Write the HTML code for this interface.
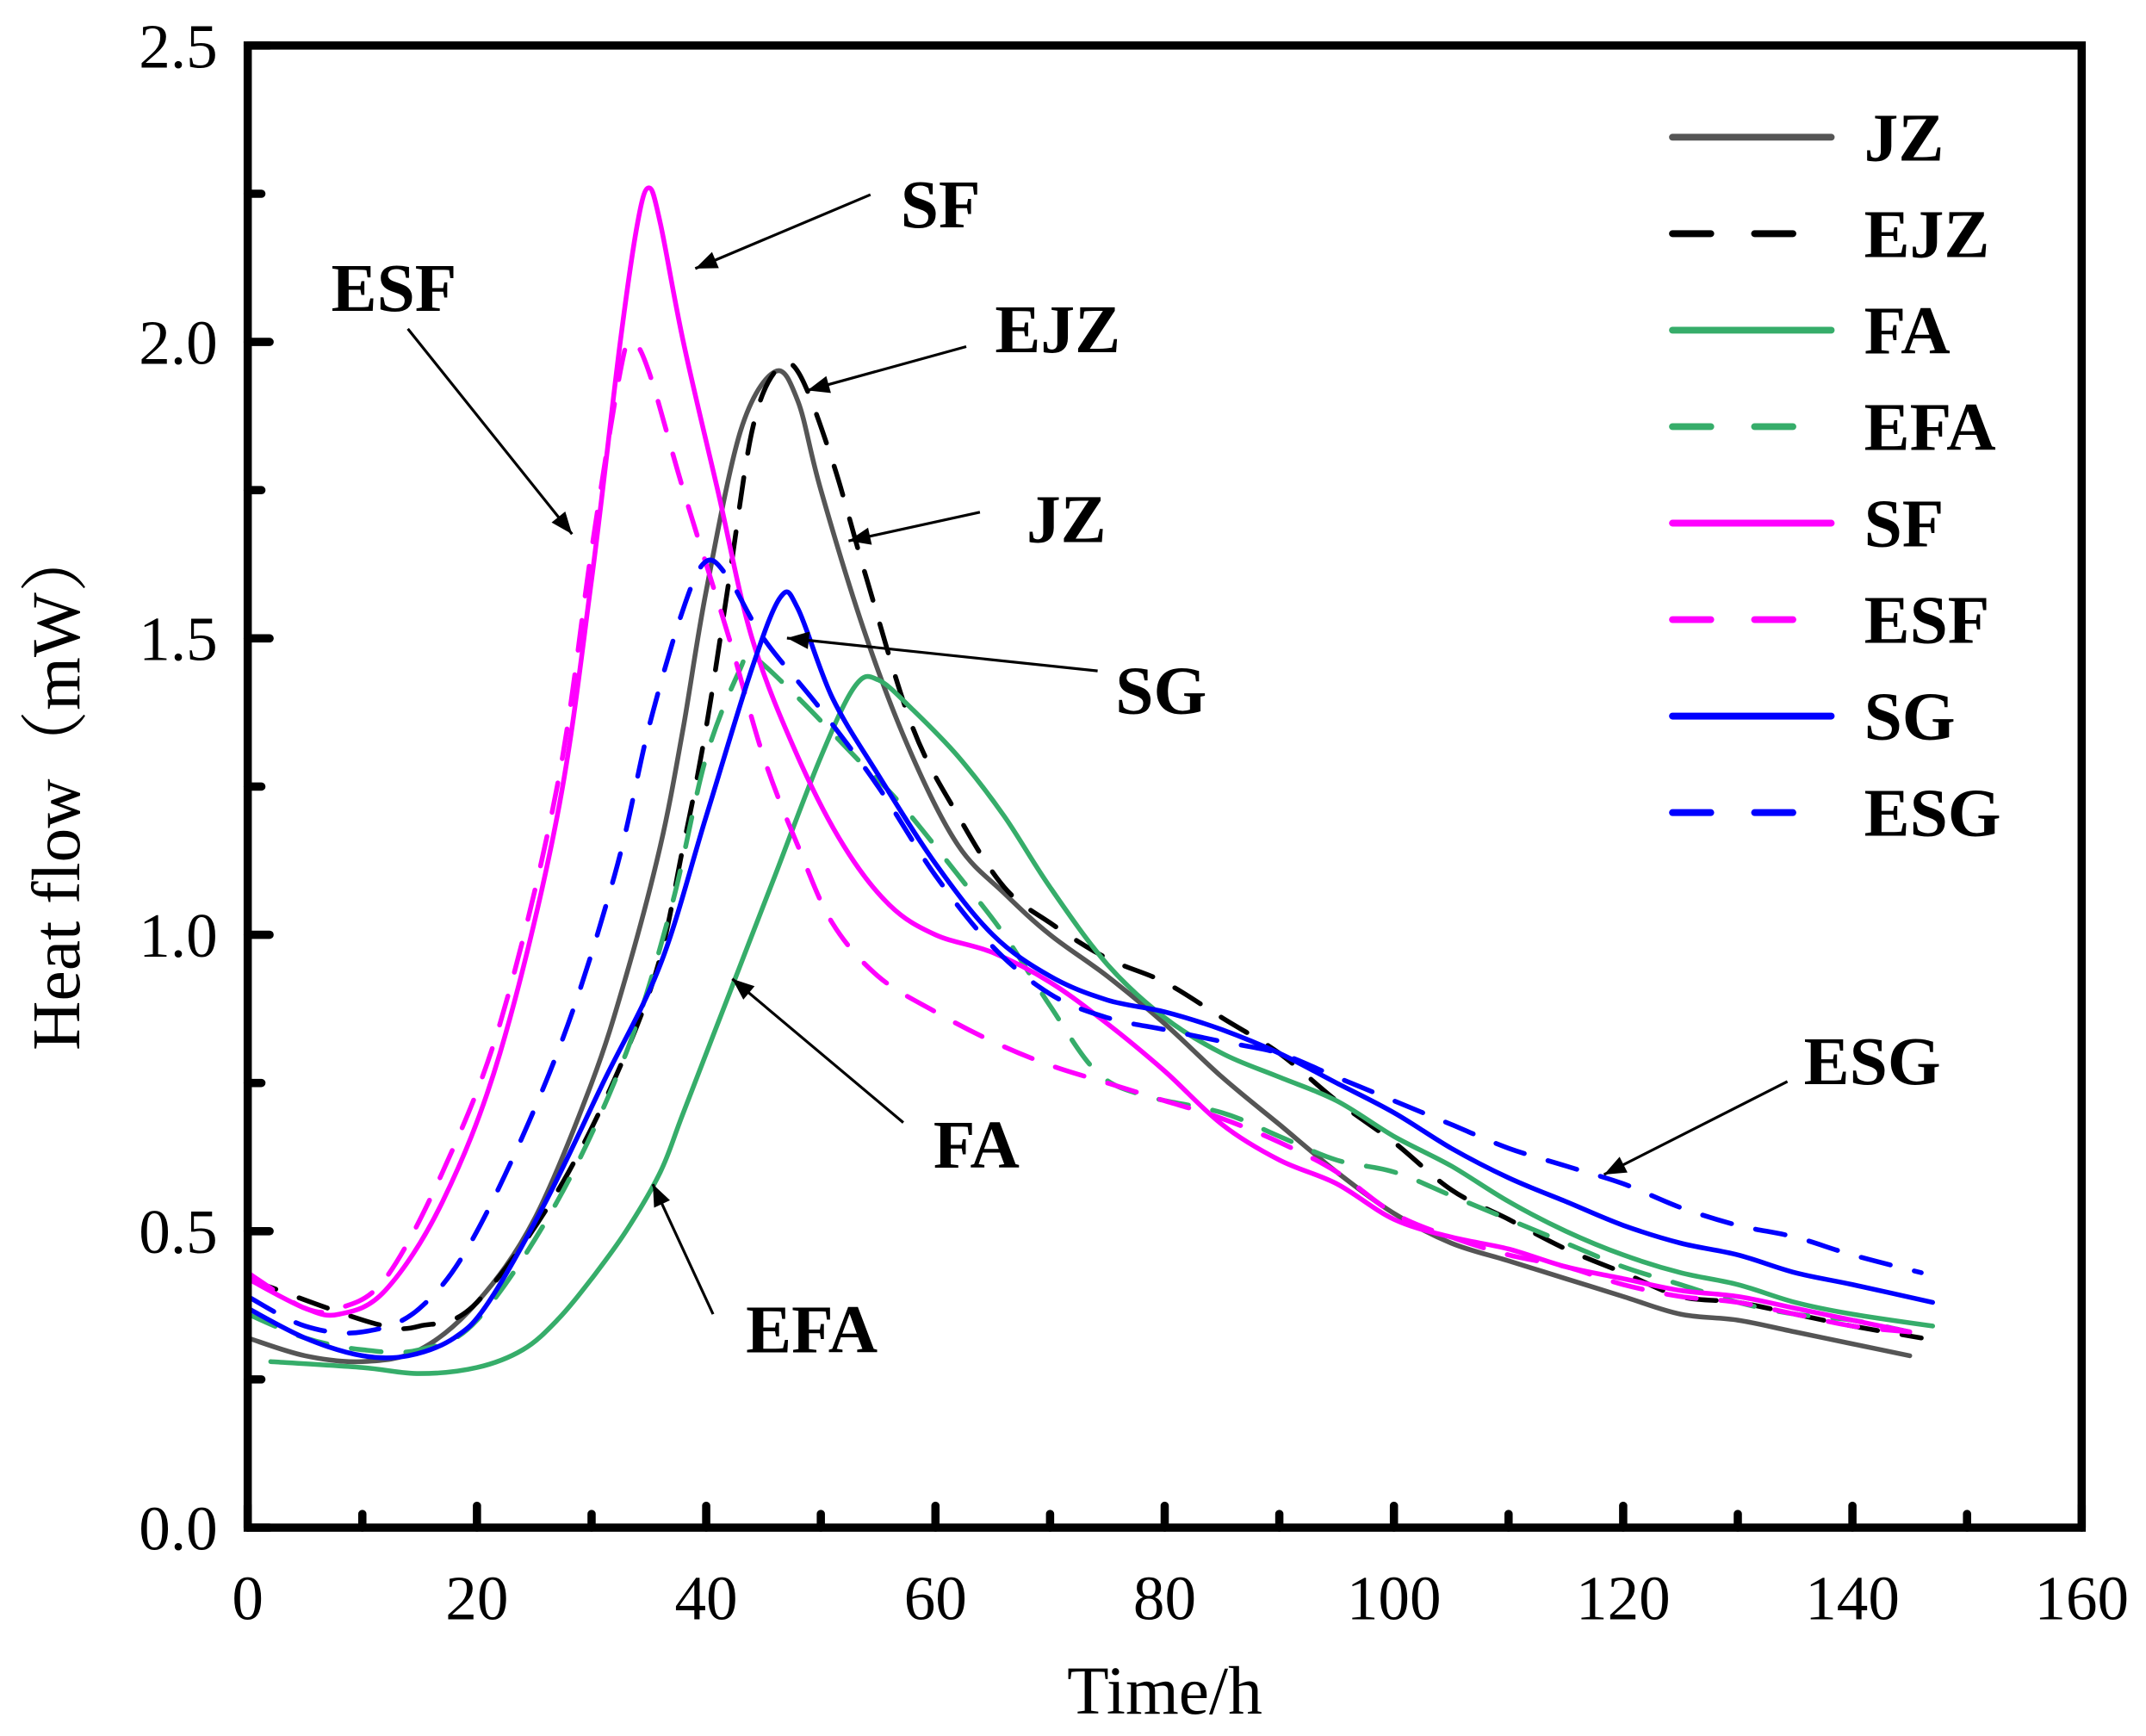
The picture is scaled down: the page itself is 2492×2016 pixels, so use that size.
<!DOCTYPE html>
<html><head><meta charset="utf-8"><style>html,body{margin:0;padding:0;background:#fff}svg{display:block}text{font-family:"Liberation Serif",serif}</style></head>
<body>
<svg id="chart" width="2492" height="2016" viewBox="0 0 1568 1268" xmlns="http://www.w3.org/2000/svg">
<g id="plot"></g>
<g id="axes"></g>
<g id="legend"></g>
<g id="annot"></g>
</svg>
<script>
const xTicks=[0,20,40,60,80,100,120,140,160];
const yTicks=[0.0,0.5,1.0,1.5,2.0,2.5];
const seriesNames=["JZ","EJZ","FA","EFA","SF","ESF","SG","ESG"];
const tJZ=[0,5,10,15,20,25,30,33,36,38,40,43,46,48,50,54,58,62,66,70,75,80,85,90,95,100,105,110,115,120,125,130,135,140,145];
const vJZ=[0.32,0.29,0.28,0.3,0.38,0.52,0.75,0.93,1.15,1.35,1.58,1.85,1.95,1.9,1.75,1.5,1.3,1.15,1.07,1.0,0.93,0.85,0.76,0.68,0.6,0.53,0.48,0.45,0.42,0.39,0.36,0.35,0.33,0.31,0.29];
const tEJZ=[0,7,12,15,20,28,35,38,40,42,44,46,48,51,54,58,62,66,70,75,80,85,90,95,100,105,110,115,120,125,130,135,140,146];
const vEJZ=[0.42,0.37,0.34,0.34,0.38,0.6,0.9,1.15,1.35,1.6,1.85,1.95,1.95,1.8,1.6,1.35,1.2,1.08,1.02,0.96,0.92,0.86,0.8,0.72,0.65,0.57,0.52,0.47,0.43,0.39,0.38,0.36,0.34,0.32];
const tFA=[2,10,15,20,24,27,30,33,36,38,42,46,50,53,55,58,62,66,70,75,80,85,90,95,100,105,110,115,120,125,130,135,140,147];
const vFA=[0.28,0.27,0.26,0.27,0.3,0.35,0.42,0.5,0.6,0.7,0.9,1.1,1.3,1.42,1.43,1.38,1.3,1.2,1.08,0.95,0.86,0.8,0.76,0.72,0.66,0.61,0.55,0.5,0.46,0.43,0.41,0.38,0.36,0.34];
const tEFA=[0,5,10,15,20,27,33,37,40,43,44,48,53,57,62,66,70,74,78,85,90,95,100,105,110,115,120,125,130,135,140,145];
const vEFA=[0.36,0.32,0.3,0.3,0.35,0.55,0.8,1.05,1.3,1.45,1.47,1.4,1.3,1.22,1.1,1.0,0.88,0.77,0.73,0.7,0.66,0.62,0.6,0.56,0.52,0.48,0.44,0.41,0.38,0.36,0.35,0.33];
const tSF=[0,5,8,12,17,22,27,30,32.5,34,35,36,38,41,44,48,52,56,60,65,70,75,80,85,90,95,100,105,110,115,120,125,130,135,140,145];
const vSF=[0.42,0.37,0.36,0.4,0.55,0.8,1.2,1.6,2.0,2.2,2.26,2.2,2.0,1.75,1.5,1.3,1.15,1.05,1.0,0.97,0.92,0.85,0.77,0.68,0.62,0.58,0.52,0.49,0.47,0.44,0.42,0.4,0.39,0.37,0.35,0.33];
const tESF=[0,5,8,12,17,22,27,30,32.5,33.5,35,38,42,45,48,51,55,60,65,70,75,80,85,90,95,100,105,110,115,120,125,130,135,140,145];
const vESF=[0.43,0.37,0.37,0.42,0.6,0.85,1.25,1.65,1.95,2.0,1.95,1.75,1.5,1.3,1.15,1.02,0.93,0.87,0.82,0.78,0.75,0.72,0.69,0.65,0.6,0.53,0.49,0.46,0.44,0.41,0.39,0.38,0.36,0.34,0.33];
const tSG=[0,5,10,14,18,21,26,31,36,40,44,46.5,48,51,55,60,65,70,75,80,85,90,95,100,105,110,115,120,125,130,135,140,147];
const vSG=[0.37,0.32,0.29,0.29,0.32,0.38,0.55,0.75,0.95,1.2,1.45,1.57,1.55,1.4,1.27,1.12,1.0,0.93,0.89,0.87,0.84,0.8,0.75,0.7,0.64,0.59,0.55,0.51,0.48,0.46,0.43,0.41,0.38];
const tESG=[0,5,10,15,20,27,32,35,38,40,42,45,50,55,60,65,70,75,80,85,90,95,100,105,110,115,120,125,130,135,140,146];
const vESG=[0.39,0.34,0.33,0.37,0.5,0.8,1.1,1.35,1.55,1.63,1.6,1.5,1.38,1.25,1.1,0.98,0.9,0.86,0.84,0.82,0.8,0.76,0.72,0.68,0.64,0.61,0.58,0.54,0.51,0.49,0.46,0.43];

const NS="http://www.w3.org/2000/svg";
const L=181,R=1521,T=33,B=1116;
const xs=t=>L+(t-0)/(160-0)*(R-L);
const ys=v=>B-(v-0)/(2.5-0)*(B-T);
function mk(tag,attrs,parent,txt){const e=document.createElementNS(NS,tag);for(const k in attrs)e.setAttribute(k,attrs[k]);if(txt!==undefined)e.textContent=txt;parent.appendChild(e);return e;}
function smooth(pts){let d="M"+pts[0][0].toFixed(1)+","+pts[0][1].toFixed(1);
 for(let i=0;i<pts.length-1;i++){const p0=pts[i-1]||pts[i],p1=pts[i],p2=pts[i+1],p3=pts[i+2]||p2;
  const c1=[p1[0]+(p2[0]-p0[0])/6,p1[1]+(p2[1]-p0[1])/6],c2=[p2[0]-(p3[0]-p1[0])/6,p2[1]-(p3[1]-p1[1])/6];
  d+=" C"+c1[0].toFixed(1)+","+c1[1].toFixed(1)+" "+c2[0].toFixed(1)+","+c2[1].toFixed(1)+" "+p2[0].toFixed(1)+","+p2[1].toFixed(1);}
 return d;}
const series=[
 {n:"JZ",t:tJZ,v:vJZ,c:"#555555",d:null},
 {n:"EJZ",t:tEJZ,v:vEJZ,c:"#000000",d:"22 18"},
 {n:"FA",t:tFA,v:vFA,c:"#36ad6a",d:null},
 {n:"EFA",t:tEFA,v:vEFA,c:"#36ad6a",d:"22 18"},
 {n:"SF",t:tSF,v:vSF,c:"#ff00ff",d:null},
 {n:"ESF",t:tESF,v:vESF,c:"#ff00ff",d:"22 18"},
 {n:"SG",t:tSG,v:vSG,c:"#0000ff",d:null},
 {n:"ESG",t:tESG,v:vESG,c:"#0000ff",d:"22 18"}];
const plot=document.getElementById("plot");
series.forEach(s=>{
 const pts=s.t.map((t,i)=>[xs(t),ys(s.v[i])]);
 const a={d:smooth(pts),fill:"none",stroke:s.c,"stroke-width":3.5,"stroke-linecap":"round","stroke-linejoin":"round"};
 if(s.d)a["stroke-dasharray"]=s.d;
 const p=mk("path",a,plot);
 
 
});
const axes=document.getElementById("axes");
const frame=mk("rect",{x:L,y:T,width:R-L,height:B-T,fill:"none",stroke:"#000","stroke-width":6},axes);


for(let t=0;t<=160;t+=10){const maj=t%20===0;
 const tk=mk("line",{x1:xs(t),x2:xs(t),y1:B,y2:B-(maj?16:10),stroke:"#000","stroke-width":6,"stroke-linecap":"round"},axes);
 
 }
for(let k=0;k<=10;k++){const v=k*0.25,maj=k%2===0;
 const tk=mk("line",{x1:L,x2:L+(maj?16:10),y1:ys(v),y2:ys(v),stroke:"#000","stroke-width":6,"stroke-linecap":"round"},axes);
 
 }
xTicks.forEach(t=>{const e=mk("text",{x:xs(t),y:B+67,"text-anchor":"middle","font-size":46},axes,String(t));
 
 });
yTicks.forEach(v=>{const e=mk("text",{x:L-22,y:ys(v)+16,"text-anchor":"end","font-size":46},axes,v.toFixed(1));
 
 });
const xt=mk("text",{x:851,y:1252,"text-anchor":"middle","font-size":50},axes,"Time/h");


const yt=mk("text",{x:0,y:0,"text-anchor":"middle","font-size":50,transform:"translate(58,575) rotate(-90)",style:'font-family:"Liberation Serif","Noto Serif CJK SC",serif'},axes,"Heat flow（mW）");


const lg=document.getElementById("legend");
series.forEach((s,i)=>{const y=100+i*70.5;
 const a={x1:1222,x2:1338,y1:y,y2:y,stroke:s.c,"stroke-width":5,"stroke-linecap":"round"};
 if(s.d)a["stroke-dasharray"]="28 32";
 const ln=mk("line",a,lg);
 
 
 const tx=mk("text",{x:1362,y:y+17,"font-size":50,"font-weight":"bold"},lg,s.n);
 
 });
const an=document.getElementById("annot");
const defs=mk("defs",{},an);
const m=mk("marker",{id:"ah",viewBox:"0 0 10 10",refX:10,refY:5,markerWidth:26,markerHeight:16,orient:"auto",markerUnits:"userSpaceOnUse"},defs);
mk("path",{d:"M0,1 L10,5 L0,9 z",fill:"#000"},m);
const notes=[
 ["SF",658,166,636,142,508,196],
 ["ESF",242,227,298,240,418,390],
 ["EJZ",727,257,706,253,590,285],
 ["JZ",750,396,716,374,620,395],
 ["SG",815,521,802,490,575,466],
 ["FA",682,853,660,820,535,715],
 ["EFA",545,988,521,960,477,865],
 ["ESG",1318,792,1306,790,1172,858]];
notes.forEach(n=>{
 const t=mk("text",{x:n[1],y:n[2],"font-size":50,"font-weight":"bold"},an,n[0]);
 
 
 const l=mk("line",{x1:n[3],y1:n[4],x2:n[5],y2:n[6],stroke:"#000","stroke-width":2,"marker-end":"url(#ah)"},an);
 
 });
</script>
</body></html>
